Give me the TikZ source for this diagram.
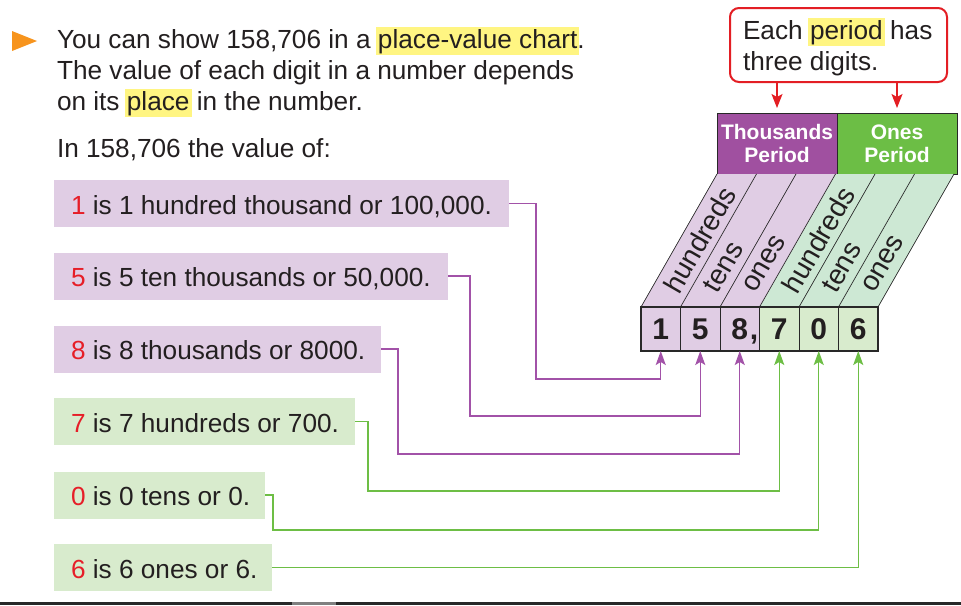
\documentclass[tikz,border=0pt]{standalone}
\usepackage{fontspec}
\setmainfont{Liberation Sans}
\usetikzlibrary{arrows.meta,calc}
\definecolor{txt}{RGB}{35,31,32}
\definecolor{purD}{RGB}{160,80,160}
\definecolor{grnD}{RGB}{108,190,69}
\definecolor{purL}{RGB}{224,205,228}
\definecolor{grnL}{RGB}{216,235,205}
\definecolor{grnS}{RGB}{205,232,212}
\definecolor{numred}{RGB}{230,30,40}
\definecolor{hly}{RGB}{255,245,130}
\definecolor{orng}{RGB}{247,148,29}
\definecolor{purLine}{RGB}{162,82,168}
\definecolor{grnLine}{RGB}{109,190,69}
\definecolor{calred}{RGB}{227,30,36}
\definecolor{edge}{RGB}{40,40,40}
\newcommand\bodyf{\fontsize{26.2}{31}\selectfont}
\newcommand\hlt[1]{\kern-2pt\relax\colorbox{hly}{\kern2pt\relax\vrule height 21pt depth 7pt width 0pt\relax #1\kern2pt\relax}\kern-2pt\relax}
\begin{document}
\begin{tikzpicture}[x=1pt,y=-1pt,
  every node/.style={inner sep=0pt, outer sep=0pt},
  body/.style={font=\bodyf, text=txt, anchor=base west},
  lblbox/.style={anchor=west, minimum height=47pt},
  hdr/.style={draw=edge, line width=0.8pt, minimum width=120pt, minimum height=61pt, anchor=north west, align=center, text=white, font=\bfseries\fontsize{21}{23}\selectfont},
  cell/.style={draw=edge, line width=0.8pt, minimum width=39.5pt, minimum height=44pt, anchor=north west, font=\bfseries\fontsize{30}{34}\selectfont, text=txt},
  rot/.style={rotate=60, anchor=west, font=\fontsize{28}{32}\selectfont, text=txt},
  pcon/.style={draw=purLine, line width=1.3pt, -{Stealth[length=14pt,width=10pt,inset=3pt]}},
  gcon/.style={draw=grnLine, line width=1.3pt, -{Stealth[length=14pt,width=10pt,inset=3pt]}},
  rarr/.style={draw=calred, line width=1.3pt, -{Stealth[length=14pt,width=11pt,inset=3pt]}}]
\useasboundingbox (0,0) rectangle (961,605);
\fill[white] (0,0) rectangle (961,605);

% intro text
\fill[orng] (12,31) -- (37,41) -- (12,51) -- cycle;
\setlength{\fboxsep}{0pt}
\node[body] (i1) at (57,48) {You can show 158,706 in a \hlt{place-value chart}.};
\node[body] (i2) at (57,79) {The value of each digit in a number depends};
\node[body] (i3) at (57,110) {on its \hlt{place} in the number.};
\node[body] (i4) at (57,157) {In 158,706 the value of:};

% callout
\node[draw=calred, line width=2pt, rounded corners=9pt, minimum width=217pt, minimum height=74pt, anchor=north west] (co) at (730,8) {};
\node[body] (c1) at (743,39) {Each \hlt{period} has};
\node[body] (c2) at (743,70) {three digits.};

% header
\node[hdr, fill=purD] (th) at (717,113) {Thousands\\Period};
\node[hdr, fill=grnD] (oh) at (837,113) {Ones\\Period};
\draw[rarr] (co.south -| th.north) -- ($(th.north)+(0,-5)$);
\draw[rarr] (co.south -| oh.north) -- ($(oh.north)+(0,-5)$);

% slanted columns
\fill[purL] (641,307) -- (760,307) -- (836,174) -- (717,174) -- cycle;
\fill[grnS] (760,307) -- (878,307) -- (954,174) -- (836,174) -- cycle;
\foreach \b in {641,680.5,720,759.5,799,838.5,878}
  \draw[edge, line width=0.7pt] (\b,307) -- ($(\b,307)+(76,-133)$);
\node[rot] (r1) at (670.5,290) {hundreds};
\node[rot] (r2) at (710,290) {tens};
\node[rot] (r3) at (749.5,290) {ones};
\node[rot] (r4) at (789,290) {hundreds};
\node[rot] (r5) at (828.5,290) {tens};
\node[rot] (r6) at (868,290) {ones};

% digit cells
\node[cell, fill=purL] (d1) at (641,307) {1};
\node[cell, fill=purL] (d2) at (680.5,307) {5};
\node[cell, fill=purL] (d3) at (720,307) {8};
\node[cell, fill=grnL] (d4) at (759.5,307) {7};
\node[cell, fill=grnL] (d5) at (799,307) {0};
\node[cell, fill=grnL] (d6) at (838.5,307) {6};
\draw[edge, line width=1.6pt] (d1.north west) rectangle (d6.south east);
\node[font=\bfseries\fontsize{30}{34}\selectfont, text=txt, anchor=base] (cm) at (754,339.5) {,};

% label boxes
\node[lblbox, fill=purL, minimum width=455pt] (l1) at (54,203.5) {};
\node[lblbox, fill=purL, minimum width=394pt] (l5) at (54,276) {};
\node[lblbox, fill=purL, minimum width=327pt] (l8) at (54,349) {};
\node[lblbox, fill=grnL, minimum width=301pt] (l7) at (54,421.5) {};
\node[lblbox, fill=grnL, minimum width=211pt] (l0) at (54,495) {};
\node[lblbox, fill=grnL, minimum width=218pt] (l6) at (54,567.5) {};
\node[body] (t1) at ($(l1.west)+(17,10.5)$) {\textcolor{numred}{1} is 1 hundred thousand or 100,000.};
\node[body] (t5) at ($(l5.west)+(17,10.5)$) {\textcolor{numred}{5} is 5 ten thousands or 50,000.};
\node[body] (t8) at ($(l8.west)+(17,10.5)$) {\textcolor{numred}{8} is 8 thousands or 8000.};
\node[body] (t7) at ($(l7.west)+(17,10.5)$) {\textcolor{numred}{7} is 7 hundreds or 700.};
\node[body] (t0) at ($(l0.west)+(17,10.5)$) {\textcolor{numred}{0} is 0 tens or 0.};
\node[body] (t6) at ($(l6.west)+(17,10.5)$) {\textcolor{numred}{6} is 6 ones or 6.};

% connectors
\draw[pcon] (l1.east) -- ++(27,0) |- ($(d1.south)+(0,28)$) -- (d1.south);
\draw[pcon] (l5.east) -- ++(22,0) |- ($(d2.south)+(0,65)$) -- (d2.south);
\draw[pcon] (l8.east) -- ++(17,0) |- ($(d3.south)+(0,103)$) -- (d3.south);
\draw[gcon] (l7.east) -- ++(13,0) |- ($(d4.south)+(0,140)$) -- (d4.south);
\draw[gcon] (l0.east) -- ++(8,0) |- ($(d5.south)+(0,179)$) -- (d5.south);
\draw[gcon] (l6.east) -| (d6.south);

% bottom rule
\fill[edge] (0,602) rectangle (961,605);
\fill[gray] (292,602) rectangle (336,605);
\end{tikzpicture}
\end{document}
